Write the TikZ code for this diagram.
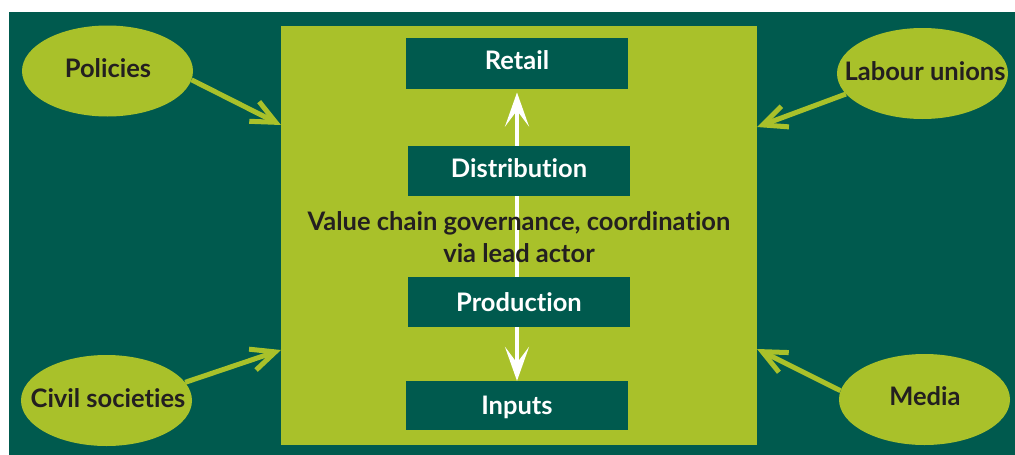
\documentclass[tikz,border=0pt]{standalone}
\usepackage{fontspec}
\setmainfont{Lato}[Ligatures={NoCommon}]
\usetikzlibrary{arrows.meta,shapes.geometric}
\definecolor{dkgreen}{HTML}{005A4E}
\definecolor{lime}{HTML}{A9C12A}
\definecolor{ink}{HTML}{231F20}
\begin{document}
\begin{tikzpicture}[x=1pt,y=-1pt,
  font=\bfseries\fontsize{25.5}{32.5}\selectfont,
  stagebox/.style={fill=dkgreen, text=white, minimum width=222pt, minimum height=51pt,
    inner sep=0pt, text height=18pt, text depth=0pt},
  actor/.style={ellipse, fill=lime, inner sep=0pt, minimum width=171pt, minimum height=91pt},
  actorlabel/.style={text=ink, inner sep=0pt, anchor=base},
  infl/.style={draw=lime, line width=5pt, -{Straight Barb[length=24pt,width=22pt]}},
  flow/.style={draw=white, line width=4pt,
    {Stealth[length=34pt,width=24pt,inset=16pt]}-{Stealth[length=34pt,width=24pt,inset=16pt]}}
]
\useasboundingbox (0,0) rectangle (1015,455);
\fill[white] (0,0) rectangle (1015,455);
\fill[dkgreen] (9,12) rectangle (1015,455);

% central value-chain box
\node[fill=lime, minimum width=476pt, minimum height=419pt, inner sep=0pt] (vc) at (519,235.5) {};

% end stages
\node[stagebox] (ret) at (517,63.8) {\raisebox{3pt}{Retail}};
\node[stagebox, minimum height=49pt] (inp) at (517,405.6) {Inputs};

% vertical flow
\draw[flow] ([yshift=-3pt]ret.south) -- (inp.north);

% middle stages
\node[stagebox, minimum height=50pt] (dis) at (519,171.3) {\raisebox{3pt}{Distribution}};
\node[stagebox, minimum height=50pt] (pro) at (519,302.3) {Production};

\node[text=ink, align=center, inner sep=0pt] (gov) at (519,237)
  {Value chain governance, coordination\\via lead actor};

% actors
\node[actor] (pol) at (107.5,71) {};
\node[actorlabel] at (108,77) {Policies};
\node[actor] (lab) at (922.5,73.5) {};
\node[actorlabel] at (925,80) {Labour unions};
\node[actor] (civ) at (106.5,400.5) {};
\node[actorlabel] at (108,407) {Civil societies};
\node[actor] (med) at (924.5,399.5) {};
\node[actorlabel] at (925,405) {Media};

% influence arrows
\coordinate (tpol) at (281,125);
\coordinate (tlab) at (757,127);
\coordinate (tciv) at (281,350);
\coordinate (tmed) at (757,349);
\draw[infl] (pol.-6) -- (tpol);
\draw[infl] (lab.195) -- (tlab);
\draw[infl] (civ.13) -- (tciv);
\draw[infl] (med.174) -- (tmed);
\end{tikzpicture}
\end{document}
